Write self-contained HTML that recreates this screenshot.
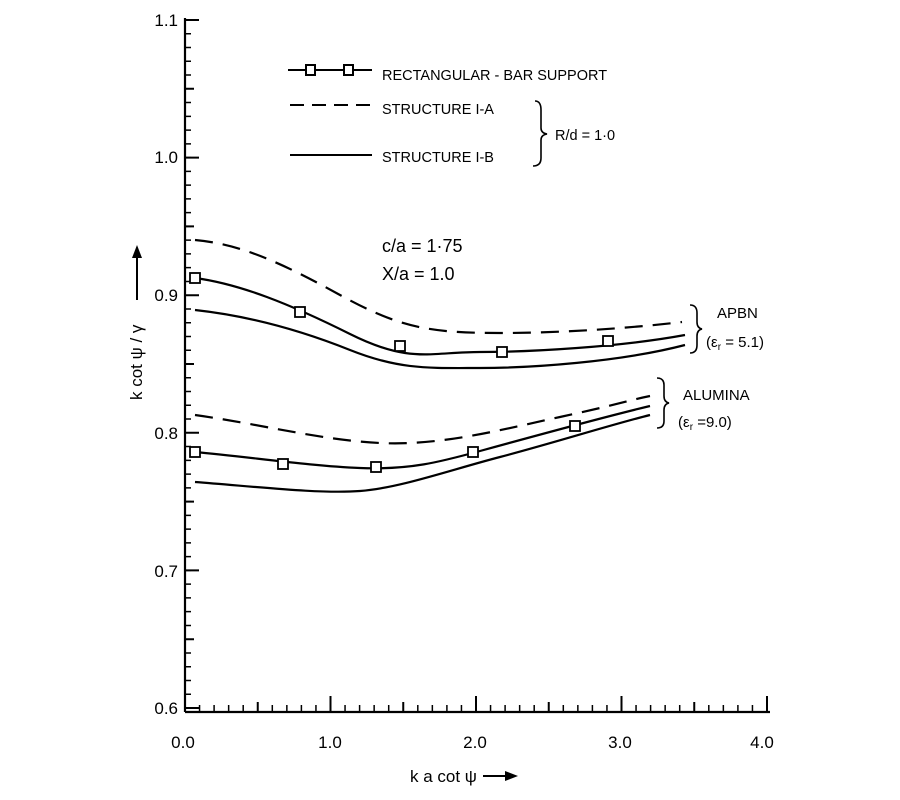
<!DOCTYPE html>
<html><head><meta charset="utf-8"><style>body{margin:0;background:#fff}svg{display:block}text{font-family:"Liberation Sans",sans-serif;fill:#000}</style></head><body>
<svg width="900" height="800" viewBox="0 0 900 800" xmlns="http://www.w3.org/2000/svg">
<g stroke="#000" stroke-width="2.2" fill="none">
<line x1="185" y1="18" x2="185" y2="712"/>
<line x1="185" y1="712" x2="770" y2="712"/>
</g>
<g stroke="#000" fill="none">
<line x1="188" y1="708.75" x2="188" y2="18" stroke-width="6" stroke-dasharray="1.5,12.26"/>
<line x1="184.25" y1="708.5" x2="770" y2="708.5" stroke-width="7" stroke-dasharray="1.5,13.05"/>
<path stroke-width="2" d="M185 20h14M185 157.6h14M185 295.2h14M185 432.8h14M185 570.4h14M185 708h14M185 639.2h9M185 501.6h9M185 364h9M185 226.4h9M185 88.8h9"/>
<path stroke-width="2" d="M330.5 712v-16M476 712v-16M621.5 712v-16M767 712v-16M257.75 712v-10M403.25 712v-10M548.75 712v-10M694.25 712v-10"/>
</g>
<g font-size="17" text-anchor="end">
<text x="178" y="26">1.1</text><text x="178" y="163">1.0</text><text x="178" y="301">0.9</text>
<text x="178" y="439">0.8</text><text x="178" y="577">0.7</text><text x="178" y="714">0.6</text>
</g>
<g font-size="17" text-anchor="middle">
<text x="183" y="748">0.0</text><text x="330" y="748">1.0</text><text x="475" y="748">2.0</text>
<text x="620" y="748">3.0</text><text x="762" y="748">4.0</text>
</g>
<text x="410" y="782" font-size="17">k a cot ψ</text>
<path d="M483 776 L515 776" stroke="#000" stroke-width="2"/><path d="M505 771 L518 776 L505 781Z"/>
<text transform="translate(142,400) rotate(-90)" font-size="17">k cot ψ / γ</text>
<path d="M137 300 L137 250" stroke="#000" stroke-width="2"/><path d="M132 258 L137 245 L142 258Z"/>
<!-- legend -->
<g stroke="#000" stroke-width="2" fill="none">
<line x1="288" y1="70" x2="372" y2="70"/>
<rect x="306" y="65" width="9" height="10" fill="#fff"/><rect x="344" y="65" width="9" height="10" fill="#fff"/>
<line x1="290" y1="105" x2="372" y2="105" stroke-dasharray="14,8"/>
<line x1="290" y1="155" x2="372" y2="155"/>
<path d="M535 101 Q541 101 541 110 L541 128 Q541 133 547 134 Q541 135 541 140 L541 158 Q541 166 533 166" stroke-width="1.6"/>
</g>
<g font-size="14.5">
<text x="382" y="80">RECTANGULAR - BAR SUPPORT</text>
<text x="382" y="114">STRUCTURE I-A</text>
<text x="382" y="162">STRUCTURE I-B</text>
<text x="555" y="140">R/d = 1·0</text>
</g>
<g font-size="18"><text x="382" y="252">c/a = 1·75</text><text x="382" y="280">X/a = 1.0</text></g>
<g font-size="15">
<text x="717" y="318">APBN</text><text x="706" y="347">(ε<tspan font-size="10" dy="3">r</tspan><tspan dy="-3"> = 5.1)</tspan></text>
<text x="683" y="400">ALUMINA</text><text x="678" y="427">(ε<tspan font-size="10" dy="3">r</tspan><tspan dy="-3"> =9.0)</tspan></text>
</g>
<g stroke="#000" stroke-width="1.6" fill="none">
<path d="M690 305 Q697 305 697 313 L697 322 Q697 328 702 329 Q697 330 697 336 L697 345 Q697 353 690 353"/>
<path d="M657 378 Q664 378 664 385 L664 396 Q664 402 669 403 Q664 404 664 410 L664 421 Q664 428 657 428"/>
</g>
<g stroke="#000" stroke-width="2.2" fill="none">
<path d="M195 240 C240 244 280 262 340 295 S430 333 500 333 S640 327 682 322" stroke-dasharray="18,10"/>
<path d="M195 278 C240 284 290 304 350 334 S430 352 480 352 S620 347 685 335"/>
<path d="M195 310 C250 316 300 330 350 350 S430 368 480 368 S620 362 685 345"/>
<path d="M195 415 C260 424 320 440 380 443 S500 430 560 417 S630 400 650 396" stroke-dasharray="18,10"/>
<path d="M195 452 C250 457 310 466 360 468 S440 462 480 451 S600 418 650 406"/>
<path d="M195 482 C260 487 320 494 360 491 S450 470 500 457 S610 425 650 415"/>
</g>
<g stroke="#000" stroke-width="1.8" fill="#fff">
<rect x="190" y="273" width="10" height="10"/><rect x="295" y="307" width="10" height="10"/><rect x="395" y="341" width="10" height="10"/><rect x="497" y="347" width="10" height="10"/><rect x="603" y="336" width="10" height="10"/>
<rect x="190" y="447" width="10" height="10"/><rect x="278" y="459" width="10" height="10"/><rect x="371" y="462" width="10" height="10"/><rect x="468" y="447" width="10" height="10"/><rect x="570" y="421" width="10" height="10"/>
</g>
</svg>
</body></html>
